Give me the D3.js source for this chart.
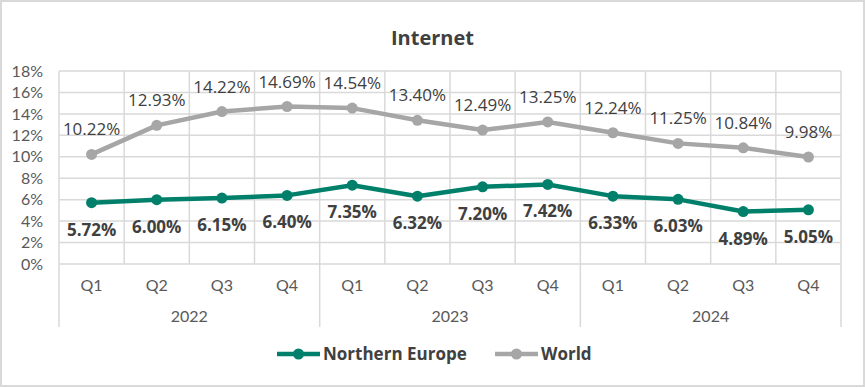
<!DOCTYPE html>
<html>
<head>
<meta charset="utf-8">
<script src="https://cdn.jsdelivr.net/npm/d3@7"></script>
<style>
  body { margin: 0; background: #fff; }
  svg { display: block; font-family: Lato, "Noto Sans", sans-serif; }
</style>
</head>
<body>
<svg width="865" height="387"></svg>
<script>
var years = ["2022", "2023", "2024"];
var quarters = ["Q1", "Q2", "Q3", "Q4"];
var northernEurope = [5.72, 6.00, 6.15, 6.40, 7.35, 6.32, 7.20, 7.42, 6.33, 6.03, 4.89, 5.05];
var world = [10.22, 12.93, 14.22, 14.69, 14.54, 13.40, 12.49, 13.25, 12.24, 11.25, 10.84, 9.98];
var yTicks = [0, 2, 4, 6, 8, 10, 12, 14, 16, 18];

var margin = { top: 71, right: 24, bottom: 123, left: 59 };
var W = 865, H = 387;
var width = W - margin.left - margin.right,
    height = H - margin.top - margin.bottom;

var grid = "#d9d9d9";
var teal = "#00806a";
var grey = "#a6a6a6";
var text = "#404040";
var wide = "'Open Sans', Lato, sans-serif";

var svg = d3.select("svg");

// outer frame
svg.append("rect")
    .attr("x", 1).attr("y", 1)
    .attr("width", W - 2).attr("height", H - 2)
    .attr("fill", "none").attr("stroke", grid).attr("stroke-width", 2);

svg.append("text")
    .attr("x", W / 2).attr("y", 45)
    .attr("text-anchor", "middle")
    .attr("font-family", wide)
    .attr("font-size", 20).attr("font-weight", "bold")
    .attr("fill", text)
    .text("Internet");

var g = svg.append("g")
    .attr("transform", "translate(" + margin.left + "," + margin.top + ")");

var keys = [];
years.forEach(function(y) { quarters.forEach(function(q) { keys.push(y + "-" + q); }); });

var x = d3.scaleBand().domain(keys).range([0, width]);
var y = d3.scaleLinear().domain([0, 18]).range([height, 0]);

// horizontal gridlines
g.selectAll(".hgrid").data(yTicks).enter().append("line")
    .attr("x1", 0).attr("x2", width)
    .attr("y1", function(d) { return y(d); })
    .attr("y2", function(d) { return y(d); })
    .attr("stroke", grid).attr("stroke-width", 1.5);

// vertical gridlines at category boundaries
var bounds = keys.map(function(k) { return x(k); }).concat([width]);
g.selectAll(".vgrid").data(bounds).enter().append("line")
    .attr("x1", function(d) { return d; }).attr("x2", function(d) { return d; })
    .attr("y1", 0)
    .attr("y2", function(d, i) { return i % 4 === 0 ? height + 63 : height; })
    .attr("stroke", grid).attr("stroke-width", 1.5);

// y axis
var yAxis = g.append("g")
    .call(d3.axisLeft(y).tickValues(yTicks).tickSize(0).tickPadding(16)
        .tickFormat(function(d) { return d + "%"; }));
yAxis.select(".domain").remove();
yAxis.selectAll("text")
    .attr("font-size", 16).attr("fill", "#595959")
    .attr("font-family", "Lato, 'Noto Sans', sans-serif");

// quarter labels
g.selectAll(".qlab").data(keys).enter().append("text")
    .attr("x", function(d) { return x(d) + x.bandwidth() / 2; })
    .attr("y", height + 27)
    .attr("text-anchor", "middle")
    .attr("font-size", 16).attr("fill", "#595959")
    .text(function(d) { return d.split("-")[1]; });

// year labels
g.selectAll(".ylab").data(years).enter().append("text")
    .attr("x", function(d) { return x(d + "-Q1") + x.bandwidth() * 2; })
    .attr("y", height + 58)
    .attr("text-anchor", "middle")
    .attr("font-size", 16).attr("fill", "#595959")
    .text(function(d) { return d; });

var line = d3.line()
    .x(function(d, i) { return x(keys[i]) + x.bandwidth() / 2; })
    .y(function(d) { return y(d); });

function drawSeries(vals, color, labelDy, bold) {
    g.append("path").datum(vals)
        .attr("d", line)
        .attr("fill", "none").attr("stroke", color)
        .attr("stroke-width", 4.5).attr("stroke-linejoin", "round");
    g.selectAll(null).data(vals).enter().append("circle")
        .attr("cx", function(d, i) { return x(keys[i]) + x.bandwidth() / 2; })
        .attr("cy", function(d) { return y(d); })
        .attr("r", 5.5).attr("fill", color);
    g.selectAll(null).data(vals).enter().append("text")
        .attr("x", function(d, i) { return x(keys[i]) + x.bandwidth() / 2; })
        .attr("y", function(d) { return y(d) + labelDy; })
        .attr("text-anchor", "middle")
        .attr("font-family", wide)
        .attr("font-size", 17)
        .attr("font-weight", bold ? "bold" : "normal")
        .attr("fill", text)
        .text(function(d) { return d.toFixed(2) + "%"; });
}

drawSeries(world, grey, -19, false);
drawSeries(northernEurope, teal, 33, true);

// legend
var legend = [
    { name: "Northern Europe", color: teal, x: 277 },
    { name: "World", color: grey, x: 495 }
];
var lg = svg.selectAll(".legend").data(legend).enter().append("g")
    .attr("transform", function(d) { return "translate(" + d.x + ",354)"; });
lg.append("line")
    .attr("x1", 0).attr("x2", 43).attr("y1", 0).attr("y2", 0)
    .attr("stroke", function(d) { return d.color; }).attr("stroke-width", 4.5);
lg.append("circle")
    .attr("cx", 21.5).attr("cy", 0).attr("r", 5.5)
    .attr("fill", function(d) { return d.color; });
lg.append("text")
    .attr("x", 46).attr("y", 6)
    .attr("font-family", wide)
    .attr("font-size", 17).attr("font-weight", "bold")
    .attr("fill", text)
    .text(function(d) { return d.name; });
</script>
</body>
</html>
